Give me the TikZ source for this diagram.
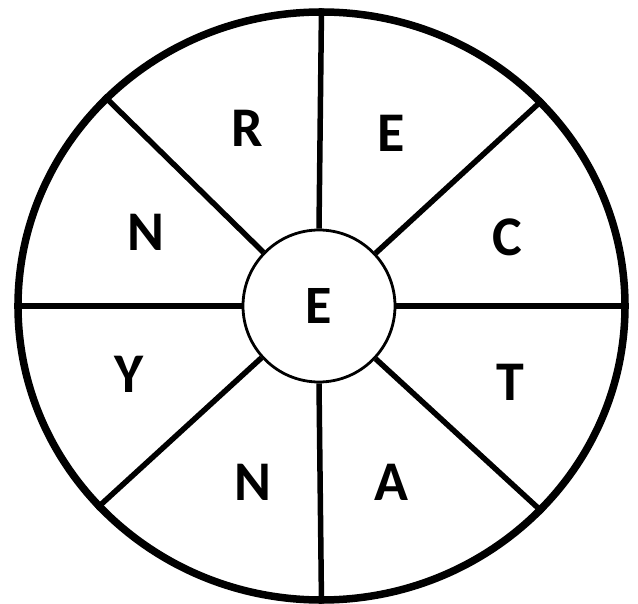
\documentclass[tikz,border=0pt]{standalone}
\usepackage{fontspec}
\setmainfont{Carlito}
\usetikzlibrary{shapes.geometric}
\begin{document}
\begin{tikzpicture}[x=1pt,y=-1pt,
  letter/.style={font=\fontsize{56}{56}\selectfont\bfseries, inner sep=0pt},
  spoke/.style={line width=5.5pt}]
\useasboundingbox (0,0) rectangle (638,604);
\node[ellipse, draw, line width=7.5pt, minimum width=607pt, minimum height=588pt, inner sep=0pt] (outer) at (321.5,306) {};
\node[circle, draw, line width=2.8pt, minimum size=152pt, inner sep=0pt, font=\fontsize{54}{54}\selectfont\bfseries] (hub) at (319,306) {E};
\foreach \a in {0,43.6,90,136.4,180,222.9,270,317}{
  \draw[spoke] (hub.\a) -- (outer.\a);
}
\node[letter] (l1) at (247,128) {R};
\node[letter] (l2) at (391,133) {E};
\node[letter] (l3) at (507,237) {C};
\node[letter] (l4) at (510,382) {T};
\node[letter] (l5) at (391,482) {A};
\node[letter] (l6) at (253,482) {N};
\node[letter] (l7) at (129,374) {Y};
\node[letter] (l8) at (146,232) {N};
\end{tikzpicture}
\end{document}
